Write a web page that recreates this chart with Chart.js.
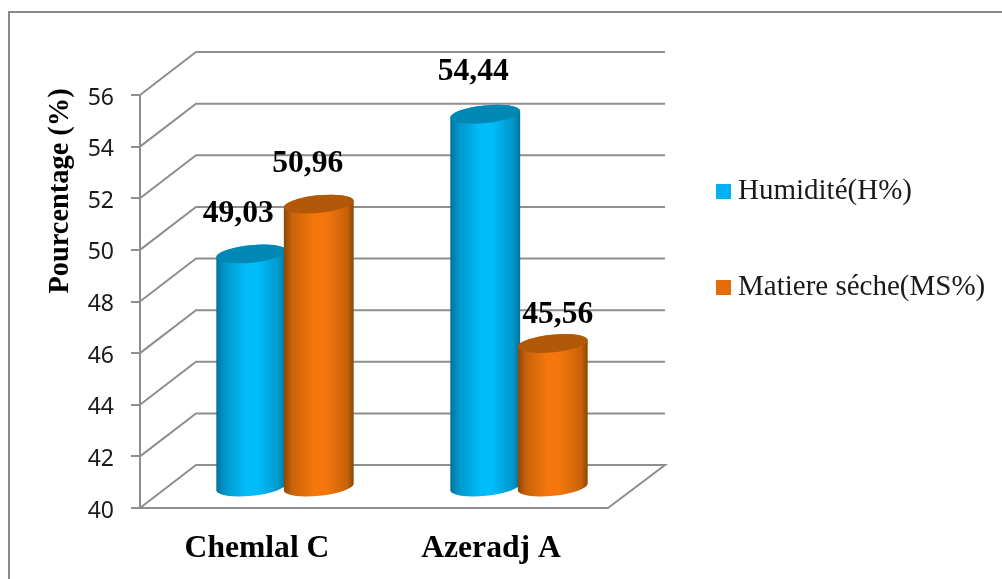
<!DOCTYPE html>
<html lang="fr">
<head>
<meta charset="utf-8">
<title>Pourcentage d'humidité et de matière sèche</title>
<script src="https://cdn.jsdelivr.net/npm/chart.js@4"></script>
<style>
  html, body { margin: 0; padding: 0; background: #fff; overflow: hidden; }
  canvas { display: block; }
</style>
</head>
<body>
<canvas id="chart" width="1002" height="579"></canvas>
<script>
const categories = ['Chemlal C', 'Azeradj A'];
const humidite = [49.03, 54.44];
const matiereSeche = [50.96, 45.56];
const seriesNames = ['Humidité(H%)', 'Matiere séche(MS%)'];
const axisTitle = 'Pourcentage (%)';

const GRID = '#8e8e8e';
const SERIF = '"Liberation Serif", "Times New Roman", serif';

// Depth of the box in pixels, and the share of it where the cylinders stand.
const DEPTH = { x: 56, y: -43 };
const BAR_SHIFT = { x: 28, y: -21 };
const TILT = -0.1;
const CAP_RY = 8.8;

// Shading per series: edge, shoulder, centre, cap.
const SHADES = [
  { edge: '#00709b', shoulder: '#0096ca', mid: '#00bcf9', cap: '#0088b5' },
  { edge: '#8a4704', shoulder: '#c86209', mid: '#f4760c', cap: '#b15908' }
];

// Hand placement of the value labels relative to the top of each cylinder,
// indexed by series, then category.
const LABEL_NUDGE = [
  [{ x: -13, y: -32 }, { x: -12, y: -34 }],
  [{ x: -11, y: -32 }, { x: 5, y: -20 }]
];

const frame = {
  id: 'frame',
  beforeDraw(chart) {
    const c = chart.ctx;
    c.save();
    c.strokeStyle = '#8a8a8a';
    c.lineWidth = 2;
    c.beginPath();
    c.moveTo(9, 579);
    c.lineTo(9, 12);
    c.lineTo(1002, 12);
    c.stroke();
    c.restore();
  }
};

const box3d = {
  id: 'box3d',
  afterLayout(chart) {
    // Legend sits in the free space to the right of the box.
    const l = chart.legend;
    l.left = 656.5; l.right = 1002; l.top = 110; l.bottom = 420;
  },
  beforeDatasetsDraw(chart) {
    const c = chart.ctx, y = chart.scales.y, a = chart.chartArea;
    c.save();
    c.strokeStyle = GRID;
    c.lineWidth = 2;
    c.lineJoin = 'miter';
    y.ticks.forEach(t => {
      const py = y.getPixelForValue(t.value);
      c.beginPath();
      c.moveTo(a.left, py);
      c.lineTo(a.left + DEPTH.x, py + DEPTH.y);
      c.lineTo(a.right + DEPTH.x + 1, py + DEPTH.y);
      if (t.value === y.min) c.lineTo(a.right, py);
      c.stroke();
    });
    c.restore();
  },
  // The stock flat bars are replaced by the cylinders below.
  beforeDatasetDraw() { return false; },
  afterDatasetsDraw(chart) {
    const c = chart.ctx, y = chart.scales.y;
    const floor = y.getPixelForValue(y.min);
    chart.data.datasets.forEach((ds, i) => {
      chart.getDatasetMeta(i).data.forEach(el => drawCylinder(c, el, floor, SHADES[i]));
    });
    c.save();
    c.fillStyle = '#000';
    c.font = 'bold 31.6px ' + SERIF;
    c.textAlign = 'center';
    c.textBaseline = 'alphabetic';
    chart.data.datasets.forEach((ds, i) => {
      chart.getDatasetMeta(i).data.forEach((el, j) => {
        const n = LABEL_NUDGE[i][j];
        const text = ds.data[j].toFixed(2).replace('.', ',');
        c.fillText(text, el.x + BAR_SHIFT.x + n.x, el.y + BAR_SHIFT.y + n.y);
      });
    });
    // Axis title sits in the upper part of the axis, so it is placed by hand.
    c.font = 'bold 28.4px ' + SERIF;
    c.translate(68, 191);
    c.rotate(-Math.PI / 2);
    c.fillText(axisTitle, 0, 0);
    c.restore();
  }
};

function drawCylinder(c, el, floor, shade) {
  const rx = el.width / 2 * 1.04;
  const cx = el.x + BAR_SHIFT.x;
  const top = el.y + BAR_SHIFT.y;
  const base = floor + BAR_SHIFT.y;
  const g = c.createLinearGradient(cx - rx, 0, cx + rx, 0);
  g.addColorStop(0, shade.edge);
  g.addColorStop(0.12, shade.shoulder);
  g.addColorStop(0.42, shade.mid);
  g.addColorStop(0.6, shade.mid);
  g.addColorStop(0.9, shade.shoulder);
  g.addColorStop(1, shade.edge);
  c.save();
  c.beginPath();
  c.ellipse(cx, base, rx, CAP_RY, TILT, Math.PI, 0, true);
  c.ellipse(cx, top, rx, CAP_RY, TILT, 0, Math.PI, true);
  c.closePath();
  c.fillStyle = g;
  c.fill();
  c.beginPath();
  c.ellipse(cx, top, rx, CAP_RY, TILT, 0, Math.PI * 2);
  c.fillStyle = shade.cap;
  c.fill();
  c.restore();
}

function snapY(scale) { scale.width = 140; scale.paddingTop = 0; scale.paddingBottom = 0; }
function snapX(scale) { scale.height = 71; scale.paddingLeft = 0; scale.paddingRight = 0; }

new Chart(document.getElementById('chart'), {
  type: 'bar',
  plugins: [frame, box3d],
  data: {
    labels: categories,
    datasets: [
      { label: seriesNames[0], data: humidite, backgroundColor: '#00b0f0', clip: false },
      { label: seriesNames[1], data: matiereSeche, backgroundColor: '#e46c0a', clip: false }
    ]
  },
  options: {
    responsive: false,
    animation: false,
    layout: { padding: { left: 0, top: 95, right: 394, bottom: 0 } },
    datasets: { bar: { categoryPercentage: 0.577, barPercentage: 1 } },
    plugins: {
      tooltip: { enabled: false },
      legend: {
        position: 'chartArea',
        align: 'start',
        labels: {
          usePointStyle: true,
          pointStyle: 'rect',
          boxWidth: 0.01,
          boxHeight: 15,
          padding: 67,
          color: '#1a1a1a',
          font: { family: SERIF, size: 29 }
        }
      }
    },
    scales: {
      x: {
        afterFit: snapX,
        grid: { display: false, drawTicks: false },
        border: { display: true, color: GRID, width: 2 },
        ticks: { color: '#000', padding: 22, font: { family: SERIF, size: 31.6, weight: 'bold' } }
      },
      y: {
        min: 40,
        max: 56,
        afterFit: snapY,
        grid: { drawOnChartArea: false, drawTicks: true, tickLength: 9, color: GRID, lineWidth: 2 },
        border: { display: true, color: GRID, width: 2 },
        ticks: { stepSize: 2, color: '#1a1a1a', padding: 17, labelOffset: 3, font: { family: '"Noto Sans"', size: 23 } }
      }
    }
  }
});
</script>
</body>
</html>
